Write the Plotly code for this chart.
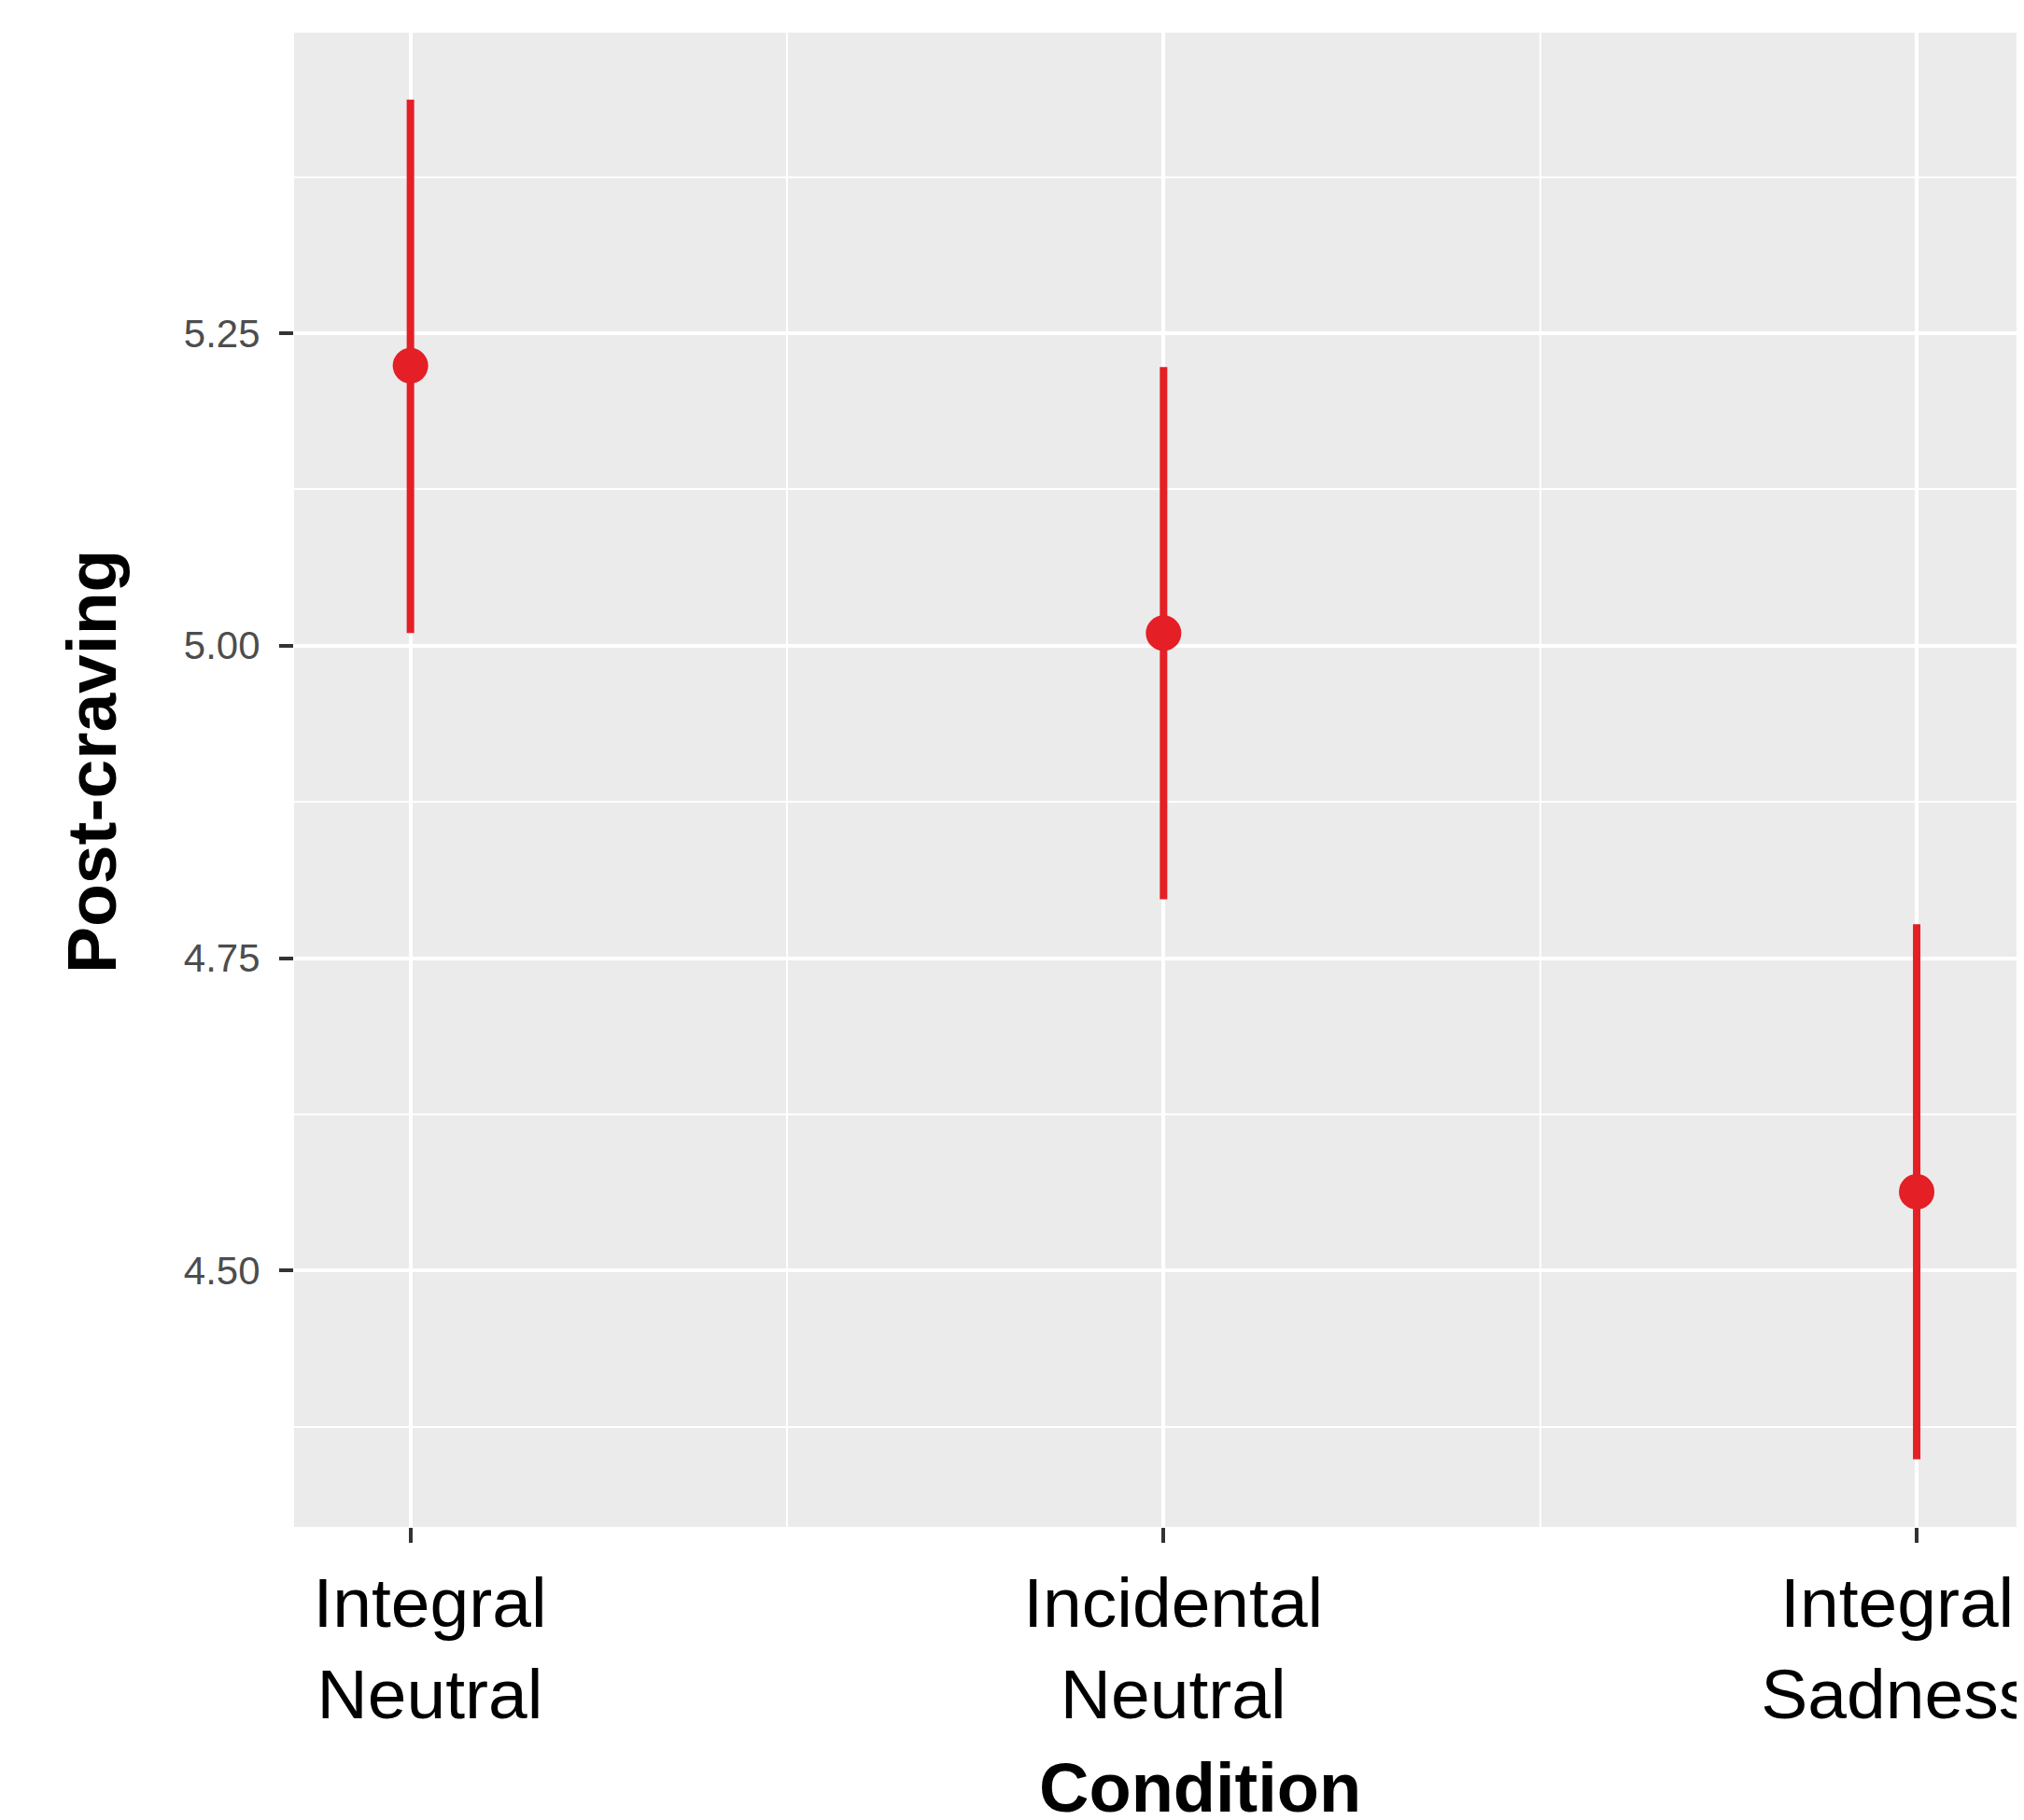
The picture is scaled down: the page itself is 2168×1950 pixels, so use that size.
import plotly.graph_objects as go

categories = [["Integral", "Neutral"], ["Incidental", "Neutral"], ["Integral", "Sadness"]]
means = [5.224, 5.010, 4.563]
upper = [5.437, 5.223, 4.777]
lower = [5.010, 4.797, 4.349]
y_ticks = [4.50, 4.75, 5.00, 5.25]
y_tick_labels = ["4.50", "4.75", "5.00", "5.25"]
y_minor = [4.375, 4.625, 4.875, 5.125, 5.375]

# small horizontal nudges of the tick labels, in non-breaking spaces (lead, trail)
label_pad = [(2, 0), (1, 0), (0, 2)]
NB = "\u00a0"
ticktext = ["<br>".join(NB * lead + line + NB * trail for line in cat)
            for cat, (lead, trail) in zip(categories, label_pad)]

xpos = list(range(len(categories)))
red = "#E41F25"
font = "Liberation Sans, Arial, sans-serif"

fig = go.Figure()
fig.add_trace(go.Scatter(
    x=xpos, y=means, mode="markers",
    marker=dict(color=red, size=38, line=dict(width=0)),
    error_y=dict(type="data", symmetric=False,
                 array=[u - m for u, m in zip(upper, means)],
                 arrayminus=[m - l for m, l in zip(means, lower)],
                 color=red, thickness=8, width=0),
    showlegend=False,
))

# page body has an 8px default margin on every side
OFF = 8
W, H = 2168 - OFF, 1950 - 2 * OFF
ml, mr, mt, mb = 315 - OFF, 0, 35 - OFF, 314 - OFF

fig.update_layout(
    width=W, height=H,
    margin=dict(l=ml, r=mr, t=mt, b=mb),
    paper_bgcolor="white",
    plot_bgcolor="#EBEBEB",
    font=dict(family=font),
    xaxis=dict(
        range=[-0.1545, 2.1425],
        tickvals=xpos, ticktext=ticktext,
        showgrid=True, gridcolor="white", gridwidth=4,
        minor=dict(tickvals=[0.5, 1.5], showgrid=True, gridcolor="white", gridwidth=2),
        ticks="outside", ticklen=16, tickwidth=4, tickcolor="#333333",
        tickfont=dict(size=75, color="black", family=font),
        ticklabeloverflow="allow",
        automargin=False,
        zeroline=False, showline=False,
    ),
    yaxis=dict(
        range=[4.2948, 5.4905],
        tickvals=y_ticks, ticktext=y_tick_labels,
        showgrid=True, gridcolor="white", gridwidth=4,
        minor=dict(tickvals=y_minor, showgrid=True, gridcolor="white", gridwidth=2),
        ticks="outside", ticklen=15, tickwidth=4, tickcolor="#333333",
        tickfont=dict(size=42, color="#4D4D4D", family=font),
        ticklabelstandoff=12,
        automargin=False,
        zeroline=False, showline=False,
    ),
)

pw = W - ml - mr
ph = H - mt - mb
fig.add_annotation(
    text="<b>Condition</b>", xref="paper", yref="paper",
    x=(1285 - 315) / pw, y=(1636 - 1915) / ph,
    xanchor="center", yanchor="middle", showarrow=False,
    font=dict(size=74, color="black", family=font),
)
fig.add_annotation(
    text="<b>Post-craving</b>", xref="paper", yref="paper",
    x=(98 - 315) / pw, y=(1636 - 816) / ph,
    xanchor="center", yanchor="middle", showarrow=False, textangle=-90,
    font=dict(size=75, color="black", family=font),
)

fig.write_html("out.html")
